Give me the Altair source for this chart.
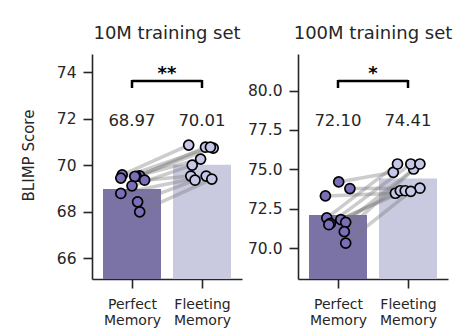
import altair as alt
import pandas as pd

# ---------------- data ----------------
panel_titles = ["10M training set", "100M training set"]
conditions = ["Perfect Memory", "Fleeting Memory"]

mean_10m = [68.97, 70.01]
mean_100m = [72.10, 74.41]
sig_10m = "**"
sig_100m = "*"

perfect_10m = [69.58, 69.54, 69.52, 69.51, 69.44, 69.35, 69.11, 68.78, 68.42, 67.99]
perfect_10m_jit = [-0.14, 0.11, 0.06, 0.04, -0.16, 0.18, 0.00, -0.16, 0.08, 0.11]
fleeting_10m = [70.86, 70.77, 70.26, 70.73, 70.77, 69.53, 70.00, 69.53, 69.35, 69.40]
fleeting_10m_jit = [-0.19, 0.05, -0.02, 0.16, 0.12, -0.16, -0.14, 0.06, -0.10, 0.14]

perfect_100m = [74.20, 73.78, 73.31, 71.91, 71.80, 71.63, 71.56, 71.48, 71.04, 70.31]
perfect_100m_jit = [0.01, 0.17, -0.18, -0.16, 0.04, 0.11, -0.11, -0.13, 0.09, 0.11]
fleeting_100m = [74.81, 73.80, 73.48, 75.34, 73.64, 75.02, 75.34, 73.64, 75.34, 73.60]
fleeting_100m_jit = [-0.21, 0.17, -0.18, -0.15, -0.11, 0.08, 0.04, -0.04, 0.17, 0.04]

y_domain_10m = [65.1, 74.78]
y_ticks_10m = [66, 68, 70, 72, 74]
y_domain_100m = [68.03, 82.33]
y_ticks_100m = [70.0, 72.5, 75.0, 77.5, 80.0]

bar_colors = ["#7b73a6", "#c9c9df"]
dot_colors = ["#7b6db8", "#c6c6e6"]
TXT = "#262626"
FONT = "DejaVu Sans"


def panel(title, means, perf, perf_j, flee, flee_j, sig, ydom, yticks, yfmt, ytitle):
    bars = pd.DataFrame({
        "cond": conditions,
        "pos": [0, 1],
        "mean": means,
        "label": [f"{m:.2f}" for m in means],
    })
    n = len(perf)
    dots = pd.DataFrame({
        "cond": [conditions[0]] * n + [conditions[1]] * n,
        "x": [j for j in perf_j] + [1 + j for j in flee_j],
        "y": perf + flee,
    })
    pairs = pd.DataFrame({
        "x": perf_j,
        "x2": [1 + j for j in flee_j],
        "y": perf,
        "y2": flee,
    })
    ends = pd.DataFrame({"pos": [0, 1]})
    bracket = pd.DataFrame({"a": [0], "b": [1], "mid": [0.5], "sig": [sig]})

    xscale = alt.Scale(domain=[-0.5, 1.5], nice=False, zero=False)
    xaxis = alt.Axis(
        values=[0, 1],
        labelExpr="datum.value == 0 ? ['Perfect','Memory'] : ['Fleeting','Memory']",
        title=None, grid=False, labelFontSize=14, labelLineHeight=16.7,
        labelPadding=9, labelBaseline="top",
    )
    yscale = alt.Scale(domain=ydom, nice=False, zero=False)
    yaxis_kw = dict(values=yticks, format=yfmt, grid=False, labelFontSize=15.5,
                    labelPadding=7)
    if ytitle:
        yaxis = alt.Axis(title=ytitle, titleX=-64, titleY=101, titleAngle=270,
                         titleAlign="center", titleBaseline="middle",
                         titleFontSize=15, titleFontWeight="normal",
                         titleColor=TXT, **yaxis_kw)
    else:
        yaxis = alt.Axis(title=None, **yaxis_kw)

    color = alt.Color("cond:N", scale=alt.Scale(domain=conditions, range=bar_colors), legend=None)

    bar_layer = alt.Chart(bars).mark_bar(size=58, clip=True).encode(
        x=alt.X("pos:Q", scale=xscale, axis=xaxis),
        y=alt.Y("mean:Q", scale=yscale, axis=yaxis),
        color=color,
    )
    line_layer = alt.Chart(pairs).mark_rule(color="#7a7a7a", opacity=0.38, strokeWidth=3.5).encode(
        x=alt.X("x:Q", scale=xscale, axis=xaxis),
        x2="x2:Q",
        y=alt.Y("y:Q", scale=yscale, axis=yaxis),
        y2="y2:Q",
    )
    dot_layer = alt.Chart(dots).mark_point(filled=True, size=100, stroke="black",
                                           strokeWidth=1.7, opacity=1, shape="circle").encode(
        x=alt.X("x:Q", scale=xscale, axis=xaxis),
        y=alt.Y("y:Q", scale=yscale, axis=yaxis),
        fill=alt.Fill("cond:N", scale=alt.Scale(domain=conditions, range=dot_colors), legend=None),
    )
    label_layer = alt.Chart(bars).mark_text(fontSize=16.5, font=FONT, color=TXT,
                                            baseline="middle", align="center").encode(
        x=alt.X("pos:Q", scale=xscale, axis=xaxis),
        y=alt.value(67),
        text="label:N",
    )
    br_h = alt.Chart(bracket).mark_rule(color="black", strokeWidth=2.5).encode(
        x=alt.X("a:Q", scale=xscale, axis=xaxis),
        x2="b:Q",
        y=alt.value(27),
    )
    br_v = alt.Chart(ends).mark_rule(color="black", strokeWidth=2.5).encode(
        x=alt.X("pos:Q", scale=xscale, axis=xaxis),
        y=alt.value(26),
        y2=alt.value(34),
    )
    star = alt.Chart(bracket).mark_text(fontSize=18, font=FONT, fontWeight="bold",
                                        color="black", baseline="alphabetic",
                                        align="center").encode(
        x=alt.X("mid:Q", scale=xscale, axis=xaxis),
        y=alt.value(25),
        text="sig:N",
    )
    return alt.layer(bar_layer, line_layer, dot_layer, label_layer, br_h, br_v, star).properties(
        width=150, height=225,
        title=alt.Title(title, fontSize=18, fontWeight="normal", font=FONT, color=TXT,
                        baseline="alphabetic", offset=-3, anchor="middle"),
    )


left = panel(panel_titles[0], mean_10m, perfect_10m, perfect_10m_jit, fleeting_10m,
             fleeting_10m_jit, sig_10m, y_domain_10m, y_ticks_10m, "d", "BLIMP Score")
right = panel(panel_titles[1], mean_100m, perfect_100m, perfect_100m_jit, fleeting_100m,
              fleeting_100m_jit, sig_100m, y_domain_100m, y_ticks_100m, ".1f", None)

chart = alt.hconcat(left, right, spacing=56, bounds="flush").properties(
    padding={"left": 21, "top": 25, "right": 0, "bottom": 0},
).configure(font=FONT).configure_view(stroke=None).configure_axis(
    domainColor=TXT, domainWidth=1.6, tickColor=TXT, tickWidth=1.6, tickSize=9,
    labelColor=TXT, labelFont=FONT, titleFont=FONT,
)

chart.save("out.html", embed_options={"renderer": "svg", "actions": False})
